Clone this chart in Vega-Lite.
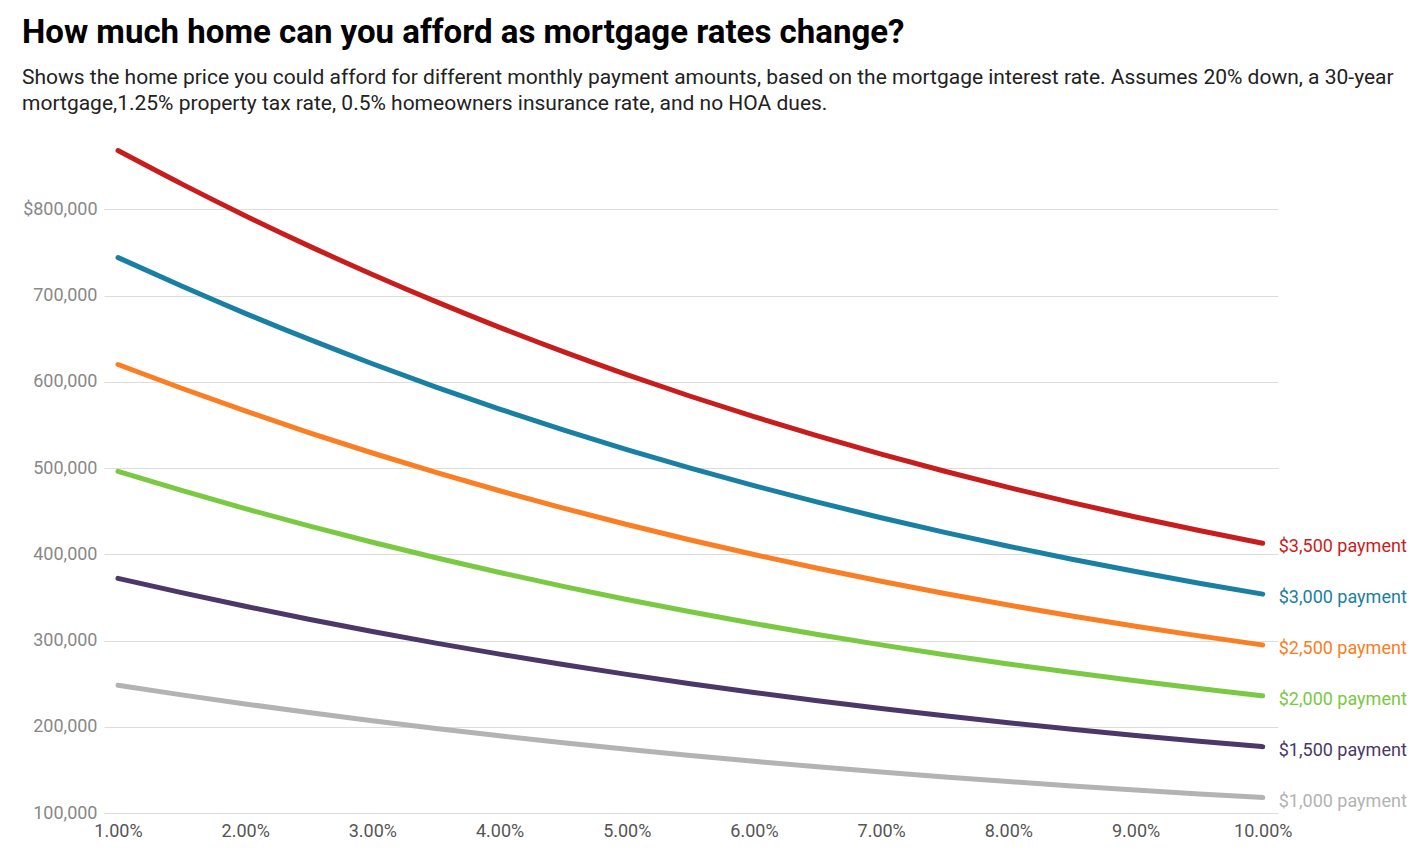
{
  "$schema": "https://vega.github.io/schema/vega-lite/v6.json",
  "width": 1174,
  "height": 664,
  "autosize": {"type": "none"},
  "padding": {"left": 104, "top": 149, "right": 133, "bottom": 52},
  "background": "white",
  "config": {
    "font": "Roboto",
    "view": {"stroke": null}
  },
  "title": {
    "text": "How much home can you afford as mortgage rates change?",
    "subtitle": ["Shows the home price you could afford for different monthly payment amounts, based on the mortgage interest rate. Assumes 20% down, a 30-year", "mortgage,1.25% property tax rate, 0.5% homeowners insurance rate, and no HOA dues."],
    "anchor": "start",
    "frame": "group",
    "dx": -82,
    "offset": 27,
    "font": "Roboto",
    "fontSize": 33,
    "fontWeight": "bold",
    "color": "#000000",
    "subtitleFont": "Roboto",
    "subtitleFontSize": 21,
    "subtitleColor": "#222222",
    "subtitleLineHeight": 25.5,
    "subtitlePadding": 17
  },
  "data": {
    "values": [
      {"rate": 1, "payment": "$1,000 payment", "price": 248050},
      {"rate": 1.5, "payment": "$1,000 payment", "price": 237010},
      {"rate": 2, "payment": "$1,000 payment", "price": 226480},
      {"rate": 2.5, "payment": "$1,000 payment", "price": 216480},
      {"rate": 3, "payment": "$1,000 payment", "price": 206990},
      {"rate": 3.5, "payment": "$1,000 payment", "price": 197990},
      {"rate": 4, "payment": "$1,000 payment", "price": 189480},
      {"rate": 4.5, "payment": "$1,000 payment", "price": 181430},
      {"rate": 5, "payment": "$1,000 payment", "price": 173830},
      {"rate": 5.5, "payment": "$1,000 payment", "price": 166650},
      {"rate": 6, "payment": "$1,000 payment", "price": 159880},
      {"rate": 6.5, "payment": "$1,000 payment", "price": 153500},
      {"rate": 7, "payment": "$1,000 payment", "price": 147480},
      {"rate": 7.5, "payment": "$1,000 payment", "price": 141800},
      {"rate": 8, "payment": "$1,000 payment", "price": 136450},
      {"rate": 8.5, "payment": "$1,000 payment", "price": 131410},
      {"rate": 9, "payment": "$1,000 payment", "price": 126660},
      {"rate": 9.5, "payment": "$1,000 payment", "price": 122170},
      {"rate": 10, "payment": "$1,000 payment", "price": 117940},
      {"rate": 1, "payment": "$1,500 payment", "price": 372075},
      {"rate": 1.5, "payment": "$1,500 payment", "price": 355515},
      {"rate": 2, "payment": "$1,500 payment", "price": 339720},
      {"rate": 2.5, "payment": "$1,500 payment", "price": 324720},
      {"rate": 3, "payment": "$1,500 payment", "price": 310485},
      {"rate": 3.5, "payment": "$1,500 payment", "price": 296985},
      {"rate": 4, "payment": "$1,500 payment", "price": 284220},
      {"rate": 4.5, "payment": "$1,500 payment", "price": 272145},
      {"rate": 5, "payment": "$1,500 payment", "price": 260745},
      {"rate": 5.5, "payment": "$1,500 payment", "price": 249975},
      {"rate": 6, "payment": "$1,500 payment", "price": 239820},
      {"rate": 6.5, "payment": "$1,500 payment", "price": 230250},
      {"rate": 7, "payment": "$1,500 payment", "price": 221220},
      {"rate": 7.5, "payment": "$1,500 payment", "price": 212700},
      {"rate": 8, "payment": "$1,500 payment", "price": 204675},
      {"rate": 8.5, "payment": "$1,500 payment", "price": 197115},
      {"rate": 9, "payment": "$1,500 payment", "price": 189990},
      {"rate": 9.5, "payment": "$1,500 payment", "price": 183255},
      {"rate": 10, "payment": "$1,500 payment", "price": 176910},
      {"rate": 1, "payment": "$2,000 payment", "price": 496100},
      {"rate": 1.5, "payment": "$2,000 payment", "price": 474020},
      {"rate": 2, "payment": "$2,000 payment", "price": 452960},
      {"rate": 2.5, "payment": "$2,000 payment", "price": 432960},
      {"rate": 3, "payment": "$2,000 payment", "price": 413980},
      {"rate": 3.5, "payment": "$2,000 payment", "price": 395980},
      {"rate": 4, "payment": "$2,000 payment", "price": 378960},
      {"rate": 4.5, "payment": "$2,000 payment", "price": 362860},
      {"rate": 5, "payment": "$2,000 payment", "price": 347660},
      {"rate": 5.5, "payment": "$2,000 payment", "price": 333300},
      {"rate": 6, "payment": "$2,000 payment", "price": 319760},
      {"rate": 6.5, "payment": "$2,000 payment", "price": 307000},
      {"rate": 7, "payment": "$2,000 payment", "price": 294960},
      {"rate": 7.5, "payment": "$2,000 payment", "price": 283600},
      {"rate": 8, "payment": "$2,000 payment", "price": 272900},
      {"rate": 8.5, "payment": "$2,000 payment", "price": 262820},
      {"rate": 9, "payment": "$2,000 payment", "price": 253320},
      {"rate": 9.5, "payment": "$2,000 payment", "price": 244340},
      {"rate": 10, "payment": "$2,000 payment", "price": 235880},
      {"rate": 1, "payment": "$2,500 payment", "price": 620125},
      {"rate": 1.5, "payment": "$2,500 payment", "price": 592525},
      {"rate": 2, "payment": "$2,500 payment", "price": 566200},
      {"rate": 2.5, "payment": "$2,500 payment", "price": 541200},
      {"rate": 3, "payment": "$2,500 payment", "price": 517475},
      {"rate": 3.5, "payment": "$2,500 payment", "price": 494975},
      {"rate": 4, "payment": "$2,500 payment", "price": 473700},
      {"rate": 4.5, "payment": "$2,500 payment", "price": 453575},
      {"rate": 5, "payment": "$2,500 payment", "price": 434575},
      {"rate": 5.5, "payment": "$2,500 payment", "price": 416625},
      {"rate": 6, "payment": "$2,500 payment", "price": 399700},
      {"rate": 6.5, "payment": "$2,500 payment", "price": 383750},
      {"rate": 7, "payment": "$2,500 payment", "price": 368700},
      {"rate": 7.5, "payment": "$2,500 payment", "price": 354500},
      {"rate": 8, "payment": "$2,500 payment", "price": 341125},
      {"rate": 8.5, "payment": "$2,500 payment", "price": 328525},
      {"rate": 9, "payment": "$2,500 payment", "price": 316650},
      {"rate": 9.5, "payment": "$2,500 payment", "price": 305425},
      {"rate": 10, "payment": "$2,500 payment", "price": 294850},
      {"rate": 1, "payment": "$3,000 payment", "price": 744150},
      {"rate": 1.5, "payment": "$3,000 payment", "price": 711030},
      {"rate": 2, "payment": "$3,000 payment", "price": 679440},
      {"rate": 2.5, "payment": "$3,000 payment", "price": 649440},
      {"rate": 3, "payment": "$3,000 payment", "price": 620970},
      {"rate": 3.5, "payment": "$3,000 payment", "price": 593970},
      {"rate": 4, "payment": "$3,000 payment", "price": 568440},
      {"rate": 4.5, "payment": "$3,000 payment", "price": 544290},
      {"rate": 5, "payment": "$3,000 payment", "price": 521490},
      {"rate": 5.5, "payment": "$3,000 payment", "price": 499950},
      {"rate": 6, "payment": "$3,000 payment", "price": 479640},
      {"rate": 6.5, "payment": "$3,000 payment", "price": 460500},
      {"rate": 7, "payment": "$3,000 payment", "price": 442440},
      {"rate": 7.5, "payment": "$3,000 payment", "price": 425400},
      {"rate": 8, "payment": "$3,000 payment", "price": 409350},
      {"rate": 8.5, "payment": "$3,000 payment", "price": 394230},
      {"rate": 9, "payment": "$3,000 payment", "price": 379980},
      {"rate": 9.5, "payment": "$3,000 payment", "price": 366510},
      {"rate": 10, "payment": "$3,000 payment", "price": 353820},
      {"rate": 1, "payment": "$3,500 payment", "price": 868175},
      {"rate": 1.5, "payment": "$3,500 payment", "price": 829535},
      {"rate": 2, "payment": "$3,500 payment", "price": 792680},
      {"rate": 2.5, "payment": "$3,500 payment", "price": 757680},
      {"rate": 3, "payment": "$3,500 payment", "price": 724465},
      {"rate": 3.5, "payment": "$3,500 payment", "price": 692965},
      {"rate": 4, "payment": "$3,500 payment", "price": 663180},
      {"rate": 4.5, "payment": "$3,500 payment", "price": 635005},
      {"rate": 5, "payment": "$3,500 payment", "price": 608405},
      {"rate": 5.5, "payment": "$3,500 payment", "price": 583275},
      {"rate": 6, "payment": "$3,500 payment", "price": 559580},
      {"rate": 6.5, "payment": "$3,500 payment", "price": 537250},
      {"rate": 7, "payment": "$3,500 payment", "price": 516180},
      {"rate": 7.5, "payment": "$3,500 payment", "price": 496300},
      {"rate": 8, "payment": "$3,500 payment", "price": 477575},
      {"rate": 8.5, "payment": "$3,500 payment", "price": 459935},
      {"rate": 9, "payment": "$3,500 payment", "price": 443310},
      {"rate": 9.5, "payment": "$3,500 payment", "price": 427595},
      {"rate": 10, "payment": "$3,500 payment", "price": 412790}
    ]
  },
  "encoding": {
    "x": {
      "field": "rate",
      "type": "quantitative",
      "scale": {"domain": [0.89, 10.12], "nice": false, "zero": false},
      "axis": {
        "title": null,
        "values": [1, 2, 3, 4, 5, 6, 7, 8, 9, 10],
        "labelExpr": "format(datum.value / 100, '.2%')",
        "grid": false,
        "domain": false,
        "ticks": false,
        "labelPadding": 9,
        "labelFontSize": 18,
        "labelColor": "#555555",
        "labelFont": "Roboto",
        "labelFlush": false
      }
    },
    "y": {
      "field": "price",
      "type": "quantitative",
      "scale": {"domain": [100000, 870000], "nice": false, "zero": false},
      "axis": {
        "title": null,
        "values": [100000, 200000, 300000, 400000, 500000, 600000, 700000, 800000],
        "labelExpr": "datum.value == 800000 ? '$800,000' : format(datum.value, ',')",
        "grid": true,
        "gridColor": "#dddddd",
        "gridWidth": 1,
        "domain": false,
        "ticks": false,
        "labelPadding": 7,
        "labelFontSize": 18,
        "labelColor": "#888888",
        "labelFont": "Roboto"
      }
    },
    "color": {
      "field": "payment",
      "type": "nominal",
      "scale": {
        "domain": ["$3,500 payment", "$3,000 payment", "$2,500 payment", "$2,000 payment", "$1,500 payment", "$1,000 payment"],
        "range": ["#c71e1d", "#1a80a3", "#fa7e24", "#7ac943", "#4b3869", "#b3b3b3"]
      },
      "legend": null
    }
  },
  "layer": [
    {
      "mark": {"type": "line", "strokeWidth": 5, "strokeCap": "round", "interpolate": "monotone"},
      "encoding": {"detail": {"field": "payment"}}
    },
    {
      "transform": [{"filter": "datum.rate == 10"}],
      "mark": {"type": "text", "align": "left", "baseline": "middle", "dx": 16, "dy": 4, "fontSize": 18, "font": "Roboto"},
      "encoding": {"text": {"field": "payment"}}
    }
  ]
}
